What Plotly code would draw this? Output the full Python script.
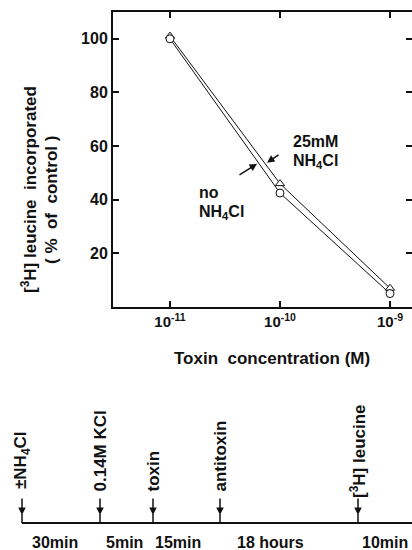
import plotly.graph_objects as go

# ---- data ----
toxin_conc = [1e-11, 1e-10, 1e-9]
nh4cl_25mM = [101, 46, 7]      # triangles
no_nh4cl = [100, 42.5, 5]      # circles
x_tick_vals = [1e-11, 1e-10, 1e-9]
x_tick_text = ["10<sup>-11</sup>", "10<sup>-10</sup>", "10<sup>-9</sup>"]
y_tick_vals = [20, 40, 60, 80, 100]

events = ["±NH<sub>4</sub>Cl", "0.14M KCl", "toxin", "antitoxin", "[<sup>3</sup>H] leucine"]
durations = ["30min", "5min", "15min", "18 hours", "10min"]

# ---- layout helpers (page pixel -> paper; margins are zero) ----
W, H = 412, 550
def px(x):
    return x / W
def py(y):
    return 1 - y / H

FONT = "Liberation Sans"
BLACK = "#111111"

fig = go.Figure()
fig.add_trace(go.Scatter(
    x=toxin_conc, y=nh4cl_25mM, mode="lines+markers",
    line=dict(color=BLACK, width=1),
    marker=dict(symbol="triangle-up", size=8, color="white", line=dict(width=1, color=BLACK)),
    showlegend=False))
fig.add_trace(go.Scatter(
    x=toxin_conc, y=no_nh4cl, mode="lines+markers",
    line=dict(color=BLACK, width=1),
    marker=dict(symbol="circle", size=8, color="white", line=dict(width=1, color=BLACK)),
    showlegend=False))

left, right, top, bottom = 113, 412, 12, 307

fig.update_layout(
    width=W, height=H, autosize=False,
    margin=dict(l=0, r=0, t=0, b=0),
    paper_bgcolor="white", plot_bgcolor="white",
    font=dict(family=FONT, size=15, color=BLACK, weight="bold"),
    xaxis=dict(
        domain=[px(left), px(right)], type="log", range=[-11.518, -8.8],
        tickvals=x_tick_vals, ticktext=x_tick_text,
        ticks="inside", ticklen=6, tickwidth=1.5, tickcolor=BLACK,
        showline=True, linecolor=BLACK, linewidth=2, mirror="ticks",
        showgrid=False, zeroline=False, automargin=False,
        tickfont=dict(size=15, weight="bold"),
    ),
    yaxis=dict(
        domain=[py(bottom), py(top)], range=[0, 110],
        tickvals=y_tick_vals,
        ticks="inside", ticklen=6, tickwidth=1.5, tickcolor=BLACK,
        showline=True, linecolor=BLACK, linewidth=2, mirror="ticks",
        showgrid=False, zeroline=False, automargin=False,
        tickfont=dict(size=16, weight="bold"),
    ),
)

def label(text, x, y, size=16, **kw):
    d = dict(text=text, x=px(x), y=py(y), xref="paper", yref="paper", showarrow=False,
             xanchor="center", yanchor="middle", font=dict(size=size, weight="bold"))
    d.update(kw)
    return d

def arrow(x, y, ax, ay, xref="x", yref="y"):
    return dict(text="", x=x, y=y, xref=xref, yref=yref, showarrow=True,
                ax=ax, ay=ay, arrowhead=2, arrowsize=1, arrowwidth=1.5, arrowcolor=BLACK)

ann = []
# axis titles
ann.append(label("Toxin  concentration (M)", 272, 358, size=17))
ann.append(label("[<sup>3</sup>H] leucine  incorporated", 29, 190, size=17, textangle=-90))
ann.append(label("( %  of  control )", 51, 200, size=17, textangle=-90))

# series labels with arrows (arrow tips in data coordinates)
ann.append(label("25mM", 291, 141, xanchor="left"))
ann.append(label("NH<sub>4</sub>Cl", 291, 161, xanchor="left"))
ann.append(arrow(-10.118, 53.8, 13, -9))
ann.append(label("no", 197, 193, xanchor="left"))
ann.append(label("NH<sub>4</sub>Cl", 197, 212, xanchor="left"))
ann.append(arrow(-10.209, 53.4, -19, 12))

# timeline
event_x = [22, 100, 153, 220, 358]
label_bottom = [491, 494, 494, 494, 500]
line_y = 523
shapes = [dict(type="line", xref="paper", yref="paper", x0=px(22), x1=px(412),
               y0=py(line_y), y1=py(line_y), line=dict(color=BLACK, width=2))]
for ex, lab, lb in zip(event_x, events, label_bottom):
    ann.append(arrow(px(ex), py(515), 0, -18, xref="paper", yref="paper"))
    shapes.append(dict(type="line", xref="paper", yref="paper", x0=px(ex), x1=px(ex),
                       y0=py(514), y1=py(line_y), line=dict(color=BLACK, width=1.5)))
    ann.append(label(lab, ex, lb, size=17, textangle=-90, yanchor="bottom"))

dur_x = [55, 125, 178, 270, 385]
for dx, d in zip(dur_x, durations):
    ann.append(label(d, dx, 542))

fig.update_layout(annotations=ann, shapes=shapes)
fig.write_html("out.html", config={"displayModeBar": False},
               post_script="document.body.style.margin='0';document.body.style.overflow='hidden';")
